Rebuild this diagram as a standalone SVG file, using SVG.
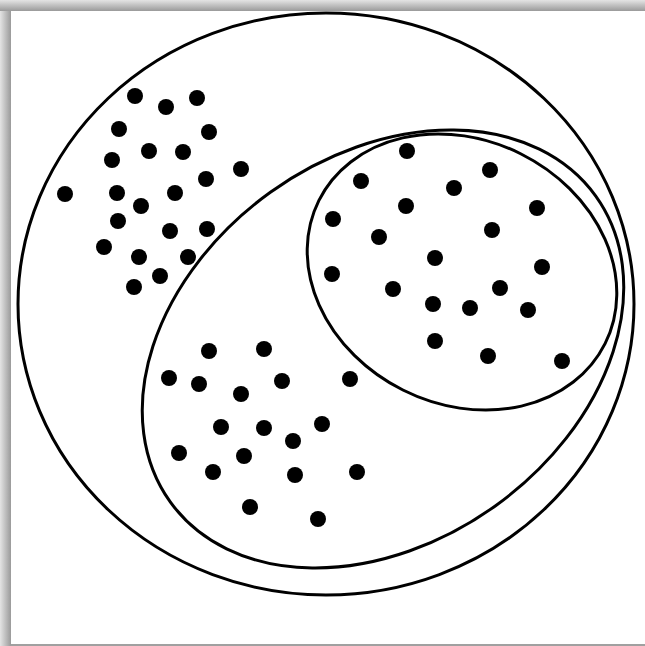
<svg xmlns="http://www.w3.org/2000/svg" width="645" height="646" viewBox="0 0 645 646">
<defs>
<linearGradient id="gt" x1="0" y1="0" x2="0" y2="1"><stop offset="0" stop-color="#e4e4e4"/><stop offset="1" stop-color="#9a9a9a"/></linearGradient>
<linearGradient id="gl" x1="0" y1="0" x2="1" y2="0"><stop offset="0" stop-color="#e4e4e4"/><stop offset="1" stop-color="#9a9a9a"/></linearGradient>
<style>
.ring{fill:none;stroke:#000;stroke-width:3}
.dot{fill:#000}
</style>
</defs>
<rect x="0" y="0" width="645" height="646" fill="#fff"/>
<rect x="0" y="0" width="645" height="11" fill="url(#gt)"/>
<rect x="0" y="11" width="11" height="635" fill="url(#gl)"/>
<rect x="11" y="644" width="634" height="2" fill="#a0a0a0"/>
<g id="sets">
<ellipse id="outer" class="ring" cx="326" cy="304" rx="308" ry="291"/>
<ellipse id="middle" class="ring" cx="383" cy="349" rx="262" ry="193" transform="rotate(-35.7 383 349)"/>
<ellipse id="inner" class="ring" cx="462" cy="272" rx="160" ry="132" transform="rotate(26.6 462 272)"/>
</g>
<g id="dots-outer" class="dot">
<circle cx="135" cy="96" r="8"/><circle cx="166" cy="107" r="8"/><circle cx="197" cy="98" r="8"/>
<circle cx="119" cy="129" r="8"/><circle cx="209" cy="132" r="8"/><circle cx="149" cy="151" r="8"/>
<circle cx="183" cy="152" r="8"/><circle cx="112" cy="160" r="8"/><circle cx="241" cy="169" r="8"/>
<circle cx="206" cy="179" r="8"/><circle cx="65" cy="194" r="8"/><circle cx="117" cy="193" r="8"/>
<circle cx="175" cy="193" r="8"/><circle cx="141" cy="206" r="8"/><circle cx="118" cy="221" r="8"/>
<circle cx="170" cy="231" r="8"/><circle cx="207" cy="229" r="8"/><circle cx="104" cy="247" r="8"/>
<circle cx="139" cy="257" r="8"/><circle cx="188" cy="257" r="8"/><circle cx="160" cy="276" r="8"/>
<circle cx="134" cy="287" r="8"/>
</g>
<g id="dots-inner" class="dot">
<circle cx="407" cy="151" r="8"/><circle cx="490" cy="170" r="8"/><circle cx="361" cy="181" r="8"/>
<circle cx="454" cy="188" r="8"/><circle cx="406" cy="206" r="8"/><circle cx="537" cy="208" r="8"/>
<circle cx="333" cy="219" r="8"/><circle cx="492" cy="230" r="8"/><circle cx="379" cy="237" r="8"/>
<circle cx="435" cy="258" r="8"/><circle cx="542" cy="267" r="8"/><circle cx="332" cy="274" r="8"/>
<circle cx="393" cy="289" r="8"/><circle cx="500" cy="288" r="8"/><circle cx="433" cy="304" r="8"/>
<circle cx="470" cy="308" r="8"/><circle cx="528" cy="310" r="8"/><circle cx="435" cy="341" r="8"/>
<circle cx="488" cy="356" r="8"/><circle cx="562" cy="361" r="8"/>
</g>
<g id="dots-middle" class="dot">
<circle cx="209" cy="351" r="8"/><circle cx="264" cy="349" r="8"/><circle cx="169" cy="378" r="8"/>
<circle cx="199" cy="384" r="8"/><circle cx="282" cy="381" r="8"/><circle cx="350" cy="379" r="8"/>
<circle cx="241" cy="394" r="8"/><circle cx="221" cy="427" r="8"/><circle cx="264" cy="428" r="8"/>
<circle cx="322" cy="424" r="8"/><circle cx="293" cy="441" r="8"/><circle cx="179" cy="453" r="8"/>
<circle cx="244" cy="456" r="8"/><circle cx="213" cy="472" r="8"/><circle cx="295" cy="475" r="8"/>
<circle cx="357" cy="472" r="8"/><circle cx="250" cy="507" r="8"/><circle cx="318" cy="519" r="8"/>
</g>
</svg>
